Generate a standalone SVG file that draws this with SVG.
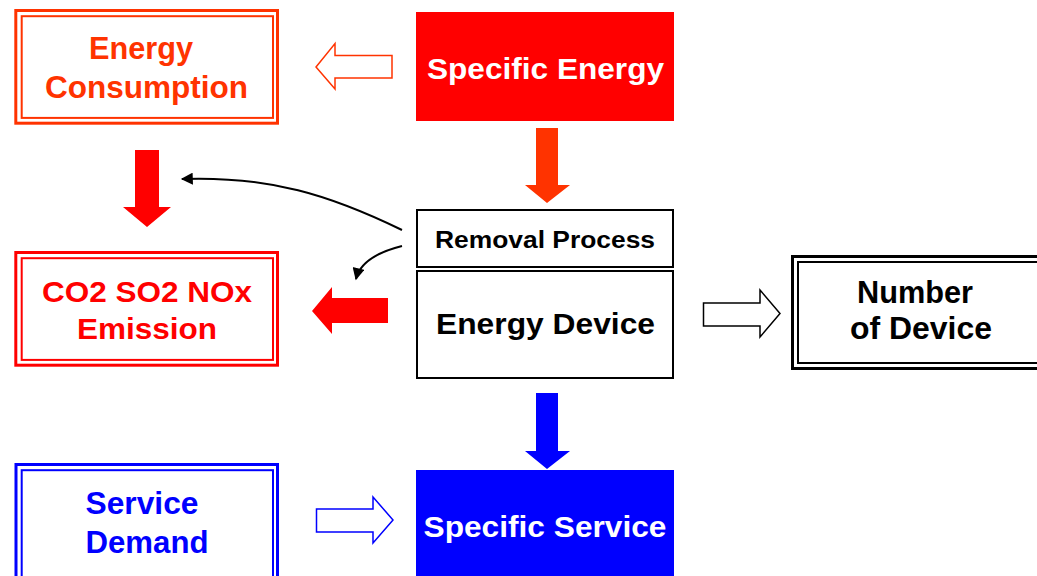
<svg xmlns="http://www.w3.org/2000/svg" width="1037" height="576" viewBox="0 0 1037 576">
<defs>
<style>
text{font-family:"Liberation Sans",Arial,sans-serif;font-weight:bold;text-anchor:middle}
.o{fill:#FF3300}.r{fill:#FF0000}.b{fill:#0000FF}.w{fill:#FFFFFF}.k{fill:#000000}
.dbl-o{fill:none;stroke:#FF3300}.dbl-r{fill:none;stroke:#FF0000}.dbl-b{fill:none;stroke:#0000FF}.dbl-k{fill:none;stroke:#000000}
.hollow{fill:#FFFFFF;stroke-width:1.5;stroke-linejoin:miter}
.curve{fill:none;stroke:#000000;stroke-width:2}
</style>
<marker id="ah" viewBox="0 0 10 10" refX="9" refY="5" markerWidth="6.5" markerHeight="6" orient="auto" markerUnits="strokeWidth">
<path d="M0,0 L10,5 L0,10 Z" fill="#000000"/>
</marker>
</defs>

<g id="energy-consumption">
<rect class="dbl-o" x="15.8" y="10.5" width="261.7" height="112.7" stroke-width="3"/>
<rect class="dbl-o" x="21.7" y="16.2" width="251.3" height="101.7" stroke-width="2"/>
<text class="o" x="141" y="59" font-size="30.5" textLength="104" lengthAdjust="spacingAndGlyphs">Energy</text>
<text class="o" x="146.5" y="98" font-size="30.5" textLength="203" lengthAdjust="spacingAndGlyphs">Consumption</text>
</g>

<g id="specific-energy">
<rect x="416" y="12" width="258" height="109" fill="#FF0000"/>
<text class="w" x="545.5" y="79" font-size="30" textLength="237" lengthAdjust="spacingAndGlyphs">Specific Energy</text>
</g>

<g id="emission">
<rect class="dbl-r" x="15.8" y="252.5" width="261.7" height="112.7" stroke-width="3"/>
<rect class="dbl-r" x="21.7" y="258.2" width="251.3" height="101.7" stroke-width="2"/>
<text class="r" x="147" y="302" font-size="30" textLength="210" lengthAdjust="spacingAndGlyphs">CO2 SO2 NOx</text>
<text class="r" x="147" y="339" font-size="30" textLength="140" lengthAdjust="spacingAndGlyphs">Emission</text>
</g>

<g id="removal-process">
<rect x="417" y="210" width="256" height="57" fill="#FFFFFF" stroke="#000000" stroke-width="2"/>
<text class="k" x="545" y="248" font-size="23.5" textLength="220" lengthAdjust="spacingAndGlyphs">Removal Process</text>
</g>

<g id="energy-device">
<rect x="417" y="271" width="256" height="107" fill="#FFFFFF" stroke="#000000" stroke-width="2"/>
<text class="k" x="545.5" y="334" font-size="29" textLength="219" lengthAdjust="spacingAndGlyphs">Energy Device</text>
</g>

<g id="number-of-device">
<rect class="dbl-k" x="792.5" y="256.5" width="262" height="112" stroke-width="3"/>
<rect class="dbl-k" x="798" y="262" width="252" height="101" stroke-width="2"/>
<text class="k" x="915" y="303" font-size="30.5" textLength="116" lengthAdjust="spacingAndGlyphs">Number</text>
<text class="k" x="921" y="339" font-size="30.5" textLength="142" lengthAdjust="spacingAndGlyphs">of Device</text>
</g>

<g id="service-demand">
<rect class="dbl-b" x="16" y="464.5" width="261.5" height="130" stroke-width="3"/>
<rect class="dbl-b" x="21.7" y="470.2" width="251.3" height="120" stroke-width="2"/>
<text class="b" x="142" y="514" font-size="30.5" textLength="113" lengthAdjust="spacingAndGlyphs">Service</text>
<text class="b" x="147" y="553" font-size="30.5" textLength="123" lengthAdjust="spacingAndGlyphs">Demand</text>
</g>

<g id="specific-service">
<rect x="416" y="470" width="258" height="110" fill="#0000FF"/>
<text class="w" x="545" y="537" font-size="30" textLength="243" lengthAdjust="spacingAndGlyphs">Specific Service</text>
</g>

<g id="connectors">
<path class="hollow" stroke="#FF3300" d="M392,55.5 L335,55.5 L335,43.5 L316,67 L335,89 L335,78 L392,78 Z"/>
<path fill="#FF3300" d="M536,128 L558,128 L558,185 L570,185 L547,203 L525,185 L536,185 Z"/>
<path fill="#FF0000" d="M135,150 L159,150 L159,207 L171,207 L147,227 L123,207 L135,207 Z"/>
<path fill="#FF0000" d="M388,298 L332,298 L332,287 L312,311 L332,334 L332,323 L388,323 Z"/>
<path class="hollow" stroke="#000000" d="M703.5,303 L760,303 L760,290 L780,313.5 L760,337 L760,326 L703.5,326 Z"/>
<path fill="#0000FF" d="M536,393 L558,393 L558,451 L570,451 L547,469 L525,451 L536,451 Z"/>
<path class="hollow" stroke="#0000FF" d="M316.5,509 L373,509 L373,497 L393,520 L373,543 L373,532 L316.5,532 Z"/>
<path class="curve" d="M402,230 C330,195 270,176 182,179" marker-end="url(#ah)"/>
<path class="curve" d="M402,246 C378,252 360,262 356,279" marker-end="url(#ah)"/>
</g>
</svg>
